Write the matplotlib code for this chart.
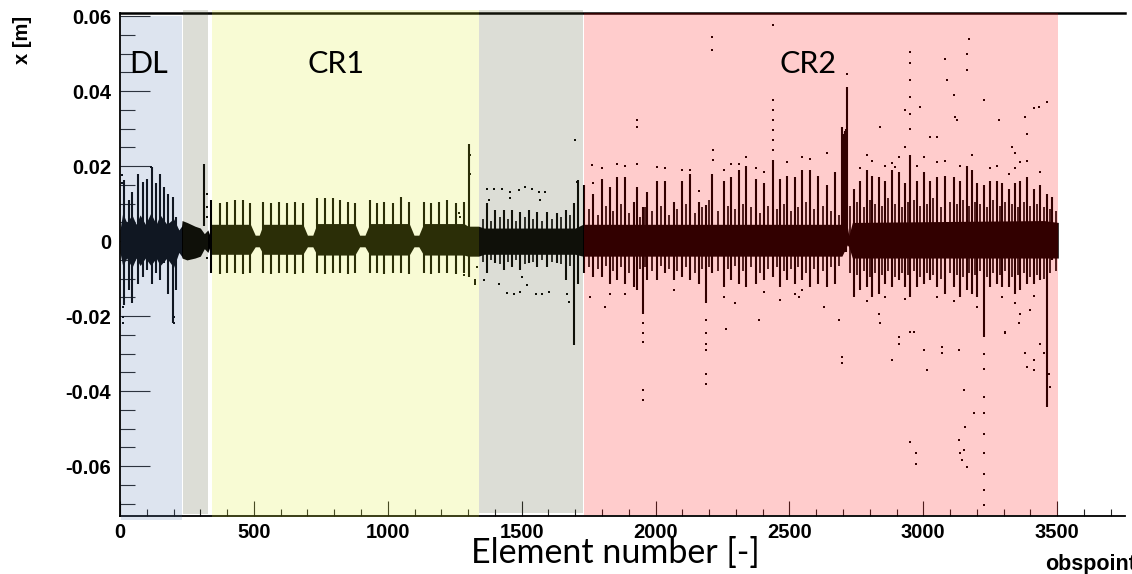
import matplotlib
matplotlib.use('Agg')
import matplotlib.pyplot as plt
import matplotlib.transforms as mtransforms
from matplotlib.patches import Rectangle
from matplotlib.ticker import MultipleLocator, FuncFormatter

# ---- beamline sections (element index ranges) ----
sec_start  = [5, 237, 342, 1339, 1731]
sec_end    = [230, 330, 1339, 1729, 3504]
sec_colors = ['#5578af', '#505532', '#dceb28', '#505532', '#ff0000']
sec_ytop   = [0.994, 1.006, 1.006, 1.006, 1.0]
sec_ybot   = [-0.008, 0.004, -0.002, 0.006, 0.002]
label_x    = [107, 805, 2571]
label_txt  = ['DL', 'CR1', 'CR2']

# ---- core envelope of the trajectories ----
band_x  = [0, 10, 25, 45, 60, 75, 95, 115, 135, 150, 175, 200, 220, 230,
           232, 250, 280, 300, 315, 328, 336,
           340, 487, 505, 520, 535, 683, 700, 720, 736, 877, 895, 915,
           933, 1080, 1098, 1116, 1134, 1284, 1300, 1339,
           1360, 1700, 1729,
           1731, 2690, 2696, 2716, 2722, 2735, 3450, 3504]
band_hi = [0.003, 0.0075, 0.005, 0.007, 0.0045, 0.007, 0.0045, 0.0075, 0.0045, 0.007, 0.0045, 0.006, 0.003, 0.004,
           0.0055, 0.005, 0.004, 0.0035, 0.002, 0.003, 0.0015,
           0.0045, 0.0045, 0.0016, 0.0016, 0.0045, 0.0045, 0.0016, 0.0016, 0.0047, 0.0047, 0.0016, 0.0016,
           0.0047, 0.0047, 0.0016, 0.0016, 0.0047, 0.0047, 0.004, 0.004,
           0.0035, 0.0035, 0.0045,
           0.0045, 0.0045, 0.005, 0.004, 0.0015, 0.005, 0.0055, 0.005]
band_lo = [-0.003, -0.0065, -0.0045, -0.007, -0.0045, -0.0065, -0.0045, -0.0065, -0.0045, -0.0065, -0.0045, -0.007, -0.003, -0.004,
           -0.0045, -0.005, -0.0045, -0.004, -0.002, -0.003, -0.0015,
           -0.0035, -0.0035, -0.0015, -0.0015, -0.0035, -0.0035, -0.0015, -0.0015, -0.0037, -0.0037, -0.0015, -0.0015,
           -0.0037, -0.0037, -0.0015, -0.0015, -0.0037, -0.0037, -0.004, -0.004,
           -0.0035, -0.0035, -0.004,
           -0.004, -0.004, -0.004, -0.001, -0.0015, -0.0045, -0.0045, -0.0045]

# ---- large excursions (solid vertical streaks) ----
spike_x = [14, 33, 45, 66, 87, 99, 118, 133, 151, 164, 180, 199, 211,
           313,
           340, 372, 398, 428, 458, 487, 535, 565, 593, 622, 653, 683,
           736, 767, 796, 823, 852, 877, 933, 960, 987, 1020, 1050, 1080,
           1134, 1163, 1190, 1222, 1253, 1284, 1305,
           1371, 1402, 1433, 1464, 1495, 1527, 1558, 1595, 1633, 1664, 1694, 1709,
           1734, 1767, 1800, 1829, 1857, 1885, 1919, 1931, 1952, 1968, 2006,
           2037, 2068, 2097, 2130, 2161, 2189, 2211, 2257, 2282, 2311, 2338,
           2377, 2404, 2439, 2464, 2491, 2519, 2547, 2578, 2606, 2641, 2672,
           2697, 2700, 2703, 2706, 2709, 2712, 2715,
           2740, 2765, 2790, 2809, 2833, 2858, 2883, 2908, 2933, 2952, 2977,
           3001, 3026, 3051, 3082, 3113, 3138, 3163, 3182, 3201, 3225, 3250,
           3275, 3294, 3319, 3344, 3362, 3387, 3412, 3437, 3462, 3481]
spike_hi = [0.0163, 0.0109, 0.0132, 0.0180, 0.0158, 0.0167, 0.0198, 0.0154, 0.0180, 0.0145, 0.0127, 0.0118, 0.0065,
            0.0207,
            0.0109, 0.0101, 0.0105, 0.0109, 0.0109, 0.0101, 0.0105, 0.0101, 0.0105, 0.0101, 0.0105, 0.0101,
            0.0114, 0.0114, 0.0114, 0.0109, 0.0105, 0.0101, 0.0109, 0.0101, 0.0105, 0.0101, 0.0118, 0.0105,
            0.0105, 0.0101, 0.0105, 0.0109, 0.0101, 0.0105, 0.0260,
            0.0101, 0.0083, 0.0083, 0.0083, 0.0078, 0.0083, 0.0078, 0.0078, 0.0074, 0.0083, 0.0101, 0.0163,
            0.0150, 0.0127, 0.0165, 0.0145, 0.0170, 0.0170, 0.0105, 0.0145, 0.0092, 0.0132, 0.0160,
            0.0160, 0.0105, 0.0160, 0.0180, 0.0105, 0.0096, 0.0180, 0.0160, 0.0170, 0.0190, 0.0200,
            0.0165, 0.0155, 0.0216, 0.0165, 0.0175, 0.0170, 0.0190, 0.0190, 0.0175, 0.0150, 0.0185,
            0.0304, 0.0280, 0.0285, 0.0290, 0.0295, 0.0300, 0.0410,
            0.0140, 0.0160, 0.0190, 0.0175, 0.0170, 0.0160, 0.0190, 0.0185, 0.0155, 0.0230, 0.0160,
            0.0185, 0.0160, 0.0170, 0.0175, 0.0170, 0.0160, 0.0200, 0.0190, 0.0155, 0.0150, 0.0160,
            0.0160, 0.0155, 0.0140, 0.0155, 0.0160, 0.0170, 0.0140, 0.0150, 0.0127, 0.0118]
spike_lo = [-0.0171, -0.0131, -0.0166, -0.0113, -0.0095, -0.0077, -0.0113, -0.0086, -0.0104, -0.0059, -0.0140, -0.0219, -0.0131,
            0.0040,
            -0.0086, -0.0088, -0.0086, -0.0084, -0.0088, -0.0086, -0.0086, -0.0088, -0.0084, -0.0086, -0.0088, -0.0086,
            -0.0086, -0.0088, -0.0084, -0.0086, -0.0088, -0.0086, -0.0086, -0.0084, -0.0088, -0.0086, -0.0086, -0.0088,
            -0.0086, -0.0088, -0.0084, -0.0086, -0.0088, -0.0086, -0.0096,
            -0.0086, -0.0059, -0.0077, -0.0068, -0.0077, -0.0059, -0.0068, -0.0068, -0.0059, -0.0104, -0.0277, -0.0113,
            -0.0086, -0.0095, -0.0095, -0.0113, -0.0104, -0.0113, -0.0122, -0.0131, -0.0193, -0.0104, -0.0104,
            -0.0086, -0.0104, -0.0095, -0.0104, -0.0113, -0.0166, -0.0086, -0.0122, -0.0104, -0.0113, -0.0122,
            -0.0113, -0.0104, -0.0095, -0.0122, -0.0104, -0.0113, -0.0104, -0.0122, -0.0113, -0.0122, -0.0113,
            0.0000, -0.0030, -0.0030, -0.0030, -0.0030, -0.0030, 0.0000,
            -0.0148, -0.0131, -0.0122, -0.0148, -0.0140, -0.0113, -0.0122, -0.0104, -0.0122, -0.0148, -0.0122,
            -0.0113, -0.0104, -0.0122, -0.0140, -0.0122, -0.0148, -0.0131, -0.0140, -0.0148, -0.0255, -0.0122,
            -0.0113, -0.0122, -0.0122, -0.0140, -0.0131, -0.0113, -0.0113, -0.0104, -0.0442, -0.0051]

# ---- smaller excursions between the large ones ----
minor_x = [1355, 1386, 1418, 1449, 1480, 1511, 1543, 1576, 1614, 1648, 1679,
           1750, 1784, 1815, 1843, 1871, 1902, 1942, 1960, 1987, 2022,
           2052, 2082, 2113, 2146, 2175, 2200, 2234, 2270, 2296, 2325,
           2358, 2390, 2421, 2452, 2478, 2505, 2533, 2562, 2592, 2624,
           2656, 2684, 2728, 2752, 2778, 2800, 2821, 2846, 2870, 2896,
           2920, 2943, 2965, 2989, 3014, 3038, 3066, 3098, 3126, 3150,
           3172, 3192, 3213, 3238, 3262, 3285, 3306, 3331, 3353, 3375,
           3400, 3425, 3450, 3472, 3495]
minor_hi = [0.0060, 0.0055, 0.0065, 0.0060, 0.0055, 0.0065, 0.0060, 0.0055, 0.0060, 0.0065, 0.0070,
            0.0085, 0.0070, 0.0095, 0.0080, 0.0100, 0.0075, 0.0065, 0.0090, 0.0080, 0.0095,
            0.0070, 0.0085, 0.0100, 0.0075, 0.0090, 0.0110, 0.0080, 0.0095, 0.0085, 0.0100,
            0.0090, 0.0075, 0.0095, 0.0085, 0.0100, 0.0080, 0.0090, 0.0105, 0.0085, 0.0095,
            0.0080, 0.0070, 0.0095, 0.0105, 0.0090, 0.0110, 0.0100, 0.0095, 0.0115, 0.0100,
            0.0090, 0.0105, 0.0110, 0.0095, 0.0100, 0.0115, 0.0090, 0.0105, 0.0100, 0.0110,
            0.0095, 0.0105, 0.0100, 0.0090, 0.0110, 0.0095, 0.0105, 0.0100, 0.0090, 0.0105,
            0.0095, 0.0100, 0.0090, 0.0085, 0.0080]
minor_lo = [-0.0055, -0.0050, -0.0060, -0.0055, -0.0050, -0.0060, -0.0055, -0.0050, -0.0055, -0.0060, -0.0065,
            -0.0070, -0.0075, -0.0065, -0.0080, -0.0070, -0.0085, -0.0075, -0.0070, -0.0080, -0.0065,
            -0.0075, -0.0080, -0.0070, -0.0085, -0.0075, -0.0070, -0.0080, -0.0075, -0.0065, -0.0080,
            -0.0070, -0.0085, -0.0075, -0.0070, -0.0080, -0.0075, -0.0070, -0.0085, -0.0075, -0.0080,
            -0.0070, -0.0065, -0.0085, -0.0090, -0.0080, -0.0095, -0.0085, -0.0090, -0.0080, -0.0095,
            -0.0085, -0.0090, -0.0080, -0.0095, -0.0085, -0.0090, -0.0100, -0.0085, -0.0090, -0.0095,
            -0.0085, -0.0090, -0.0080, -0.0095, -0.0085, -0.0090, -0.0080, -0.0095, -0.0090, -0.0085,
            -0.0095, -0.0090, -0.0100, -0.0085, -0.0080]

# ---- isolated particles ----
dot_x = [8, 8, 12, 12, 12, 201, 201, 114, 120,
         313, 313, 313, 326, 326, 326, 326,
         1306, 1306, 1327, 1327, 1334, 1284, 1271, 1265,
         1371, 1396, 1427, 1458, 1489, 1514, 1539, 1564, 1589, 1377, 1458, 1570, 1707, 1701,
         1415, 1446, 1470, 1495, 1520, 1552, 1577, 1601, 1502, 1358, 1327, 1670, 1676,
         2211, 2211, 2215, 2215, 2439, 2439, 2439, 2439, 2439, 2439, 2439,
         1931, 1931, 1931, 2641, 1763, 2006, 2130, 2338, 2311,
         3170, 3163, 3163, 2952, 2952, 2952, 2952, 2952, 2952,
         3082, 3089, 3113, 3120, 3125, 3225, 3412, 3431, 3462, 3381, 3387,
         3282, 2933, 2989, 2840, 2715, 3026, 3051, 2883, 2896, 3331, 3344,
         1767, 1800, 1857, 1885, 2037, 2097, 2161, 2257, 2282, 2377, 2404, 2491, 2547, 2578,
         2765, 2790, 2809, 2858, 2908, 2933, 2977, 3001, 3051, 3082, 3138, 3182, 3250, 3275,
         3319, 3344, 3362, 3387, 3437,
         1952, 1952, 1952, 1952, 1952, 2189, 2189, 2189, 2189, 2189, 2189,
         2263, 2385, 1754, 1813, 2298, 2466, 2519, 2537, 2628, 2684, 2697, 2697,
         2833, 2840, 2908, 2908, 2952, 2964, 2883, 3001, 3014, 3069, 3069, 3132,
         3151, 3188, 2952, 2971, 2971, 3132, 3138, 3144, 3157, 3163, 3151,
         3225, 3225, 3225, 3225, 3225, 3225, 3225, 3225, 3225,
         3306, 3306, 3381, 3387, 3412, 3412, 3437, 3450, 3468, 3475, 3362, 3356, 3400,
         1829, 1885, 2068, 2257, 2404, 2547, 2790, 2858, 2933, 3051, 3113, 3201, 3294, 3344, 3412]
dot_y = [0.0176, 0.0154, -0.0175, -0.0202, -0.0219, -0.0202, -0.0219, 0.0198, 0.0185,
         0.0150, 0.0120, 0.0080, 0.0127, 0.0090, 0.0065, -0.0045,
         0.0230, 0.0180, -0.0104, -0.0113, -0.0068, -0.0091, 0.0065, 0.0074,
         0.0140, 0.0140, 0.0140, 0.0132, 0.0136, 0.0145, 0.0140, 0.0132, 0.0132, 0.0109, 0.0114, 0.0109, 0.0158, 0.0269,
         -0.0113, -0.0138, -0.0141, -0.0135, -0.0117, -0.0140, -0.0140, -0.0135, -0.0095, -0.0104, -0.0108, -0.0140, -0.0162,
         0.0545, 0.0509, 0.0243, 0.0216, 0.0576, 0.0376, 0.0349, 0.0323, 0.0296, 0.0269, 0.0243,
         0.0323, 0.0305, 0.0207, 0.0234, 0.0203, 0.0198, 0.0189, 0.0225, 0.0207,
         0.0540, 0.0500, 0.0456, 0.0505, 0.0474, 0.0429, 0.0385, 0.0340, 0.0300,
         0.0487, 0.0429, 0.0389, 0.0331, 0.0323, 0.0376, 0.0354, 0.0358, 0.0371, 0.0331, 0.0287,
         0.0323, 0.0349, 0.0358, 0.0305, 0.0447, 0.0278, 0.0278, 0.0208, 0.0198, 0.0251, 0.0234,
         0.0155, 0.0195, 0.0205, 0.0200, 0.0195, 0.0190, 0.0135, 0.0190, 0.0205, 0.0195, 0.0185, 0.0210, 0.0225, 0.0220,
         0.0195, 0.0230, 0.0215, 0.0200, 0.0225, 0.0250, 0.0200, 0.0225, 0.0210, 0.0215, 0.0200, 0.0230, 0.0195, 0.0200,
         0.0180, 0.0195, 0.0210, 0.0215, 0.0185,
         -0.0219, -0.0246, -0.0268, -0.0397, -0.0424, -0.0211, -0.0246, -0.0273, -0.0291, -0.0353, -0.0380,
         -0.0233, -0.0211, -0.0148, -0.0175, -0.0166, -0.0157, -0.0140, -0.0148, -0.0175, -0.0211, -0.0308, -0.0326,
         -0.0193, -0.0219, -0.0255, -0.0273, -0.0241, -0.0243, -0.0317, -0.0291, -0.0344, -0.0282, -0.0299, -0.0291,
         -0.0397, -0.0459, -0.0535, -0.0566, -0.0593, -0.0531, -0.0566, -0.0584, -0.0495, -0.0602, -0.0557,
         -0.0300, -0.0340, -0.0415, -0.0459, -0.0513, -0.0566, -0.0620, -0.0664, -0.0704,
         -0.0241, -0.0246, -0.0299, -0.0335, -0.0317, -0.0344, -0.0273, -0.0299, -0.0353, -0.0390, -0.0193, -0.0219, -0.0184,
         -0.0140, -0.0140, -0.0130, -0.0150, -0.0135, -0.0130, -0.0160, -0.0150, -0.0155, -0.0150, -0.0160, -0.0175, -0.0150, -0.0165, -0.0145]

# ---- figure ----
fig = plt.figure(figsize=(11.32, 5.74), dpi=100)
ax = fig.add_axes([0.106, 0.101, 0.888, 0.876])

ax.fill_between(band_x, band_lo, band_hi, color='black', lw=0, zorder=2)
ax.vlines(minor_x, minor_lo, minor_hi, color='black', lw=1.2, zorder=2)
ax.vlines(spike_x, spike_lo, spike_hi, color='black', lw=1.5, zorder=2)
ax.plot(dot_x, dot_y, ls='none', marker='s', ms=1.6, mew=0, color='black', zorder=2)

ax.set_xlim(0, 3754)
ax.set_ylim(-0.0733, 0.0608)

# translucent section overlays
trans = mtransforms.blended_transform_factory(ax.transData, ax.transAxes)
for s, e, c, yt, yb in zip(sec_start, sec_end, sec_colors, sec_ytop, sec_ybot):
    ax.add_patch(Rectangle((s, yb), e - s, yt - yb, transform=trans,
                           facecolor=c, alpha=0.2, lw=0, zorder=5, clip_on=False))

for lx, lt in zip(label_x, label_txt):
    ax.text(lx, 0.0448, lt, ha='center', va='baseline', fontsize=22,
            family='Lato', color='black', zorder=6)

# axes frame: left, bottom and top line only
ax.spines['right'].set_visible(False)
ax.spines['left'].set_linewidth(1.3)
ax.spines['bottom'].set_linewidth(1.3)
ax.spines['top'].set_linewidth(1.8)

ax.xaxis.set_major_locator(MultipleLocator(500))
ax.xaxis.set_minor_locator(MultipleLocator(100))
ax.yaxis.set_major_locator(MultipleLocator(0.02))
ax.yaxis.set_minor_locator(MultipleLocator(0.005))
ax.yaxis.set_major_formatter(FuncFormatter(lambda v, p: '0' if abs(v) < 1e-9 else f'{v:.2f}'))
ax.xaxis.set_major_formatter(FuncFormatter(lambda v, p: f'{v:.0f}'))

ax.tick_params(axis='x', which='major', direction='in', length=10.5, width=0.8, pad=5,
               top=False, color='#222222')
ax.tick_params(axis='x', which='minor', direction='in', length=5, width=0.8, top=False,
               color='#222222')
ax.tick_params(axis='y', which='major', direction='in', length=21.5, width=0.8, pad=6.5,
               right=False, color='#222222')
ax.tick_params(axis='y', which='minor', direction='in', length=10.8, width=0.8, right=False,
               color='#222222')
for lab in ax.get_xticklabels() + ax.get_yticklabels():
    lab.set_fontfamily('Liberation Sans')
    lab.set_fontweight('bold')
    lab.set_fontsize(14.5)

fig.text(22 / 1132, 1 - 40 / 574, 'x [m]', rotation=90, ha='center', va='center',
         fontsize=14.5, fontweight='bold', family='Liberation Sans')
fig.text(1045 / 1132, 1 - 570 / 574, 'obspoint', ha='left', va='baseline',
         fontsize=15.5, fontweight='bold', family='Liberation Sans')
fig.text(615 / 1132, 1 - 563 / 574, 'Element number [-]', ha='center', va='baseline',
         fontsize=24.5, family='Lato')

fig.savefig('out.png', dpi=100, facecolor='white')
